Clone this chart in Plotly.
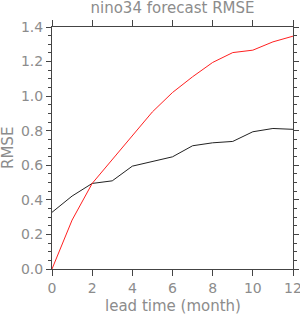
import plotly.graph_objects as go

lead = [0, 1, 2, 3, 4, 5, 6, 7, 8, 9, 10, 11, 12]
red_rmse = [0.0, 0.283, 0.495, 0.632, 0.770, 0.909, 1.021, 1.112, 1.195, 1.252, 1.266, 1.314, 1.347]
black_rmse = [0.328, 0.422, 0.495, 0.510, 0.595, 0.620, 0.649, 0.713, 0.730, 0.738, 0.794, 0.813, 0.808]

x_ticks = [0, 2, 4, 6, 8, 10, 12]
y_ticks = [0.0, 0.2, 0.4, 0.6, 0.8, 1.0, 1.2, 1.4]

txt = "#8c8c8c"
axc = "#444444"
font = "DejaVu Sans, sans-serif"

W, H = 300, 314
ML, MR, MT, MB = 52, 7, 27, 45
PW, PH = W - ML - MR, H - MT - MB

fig = go.Figure()
fig.add_trace(go.Scatter(x=lead, y=black_rmse, mode="lines",
                         line=dict(color="#222222", width=1), showlegend=False))
fig.add_trace(go.Scatter(x=lead, y=red_rmse, mode="lines",
                         line=dict(color="#ff2020", width=1), showlegend=False))

fig.update_layout(
    width=W, height=H,
    margin=dict(l=ML, r=MR, t=MT, b=MB),
    paper_bgcolor="white", plot_bgcolor="white",
    font=dict(family=font, color=txt, size=14),
    title=dict(text="nino34 forecast RMSE", xref="paper", x=0.5, xanchor="center",
               y=1 - 8 / H, yanchor="middle", font=dict(size=15, color=txt)),
    annotations=[
        dict(text="lead time (month)", xref="paper", yref="paper",
             x=0.5, y=-(306 - (MT + PH)) / PH, xanchor="center", yanchor="middle",
             showarrow=False, font=dict(size=15, color=txt)),
        dict(text="RMSE", xref="paper", yref="paper", textangle=-90,
             x=(8 - ML) / PW, y=(MT + PH - 148) / PH, xanchor="center", yanchor="middle",
             showarrow=False, font=dict(size=15, color=txt)),
    ],
)
fig.update_xaxes(
    range=[0, 12], tickvals=x_ticks, ticktext=[str(v) for v in x_ticks],
    showgrid=False, zeroline=False, showline=True, linecolor=axc, linewidth=1,
    mirror="allticks", ticks="outside", ticklen=6, tickcolor=axc,
    tickfont=dict(size=14, color=txt), automargin=False, ticklabeloverflow="allow",
)
fig.update_yaxes(
    range=[0, 1.4], tickvals=y_ticks, ticktext=[f"{v:.1f}" for v in y_ticks],
    showgrid=False, zeroline=False, showline=True, linecolor=axc, linewidth=1,
    mirror="allticks", ticks="outside", ticklen=5, tickcolor=axc,
    tickfont=dict(size=14, color=txt), automargin=False,
    minor=dict(dtick=0.05, tick0=0, ticks="outside", ticklen=3, tickcolor=axc),
)

fig.write_html("out.html")
